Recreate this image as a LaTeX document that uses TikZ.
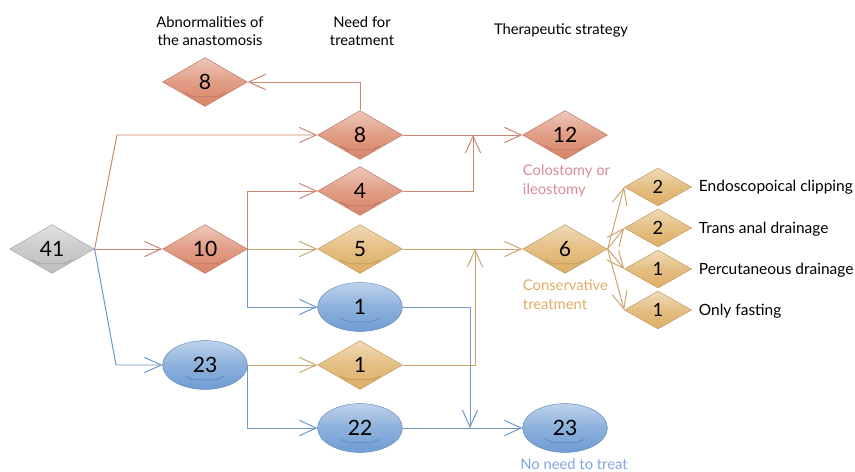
\documentclass[tikz,border=0pt]{standalone}
\usepackage{fontspec}
\setmainfont{Lato}
\usepackage{tikz}
\usetikzlibrary{arrows.meta,shapes.geometric,positioning}
\definecolor{redc}{HTML}{D98467}
\definecolor{redl}{HTML}{C98672}
\definecolor{tanc}{HTML}{DDAE64}
\definecolor{tanl}{HTML}{C9A66F}
\definecolor{bluec}{HTML}{6F9DD3}
\definecolor{bluel}{HTML}{6E98C6}
\definecolor{grayc}{HTML}{BDBDBD}
\definecolor{pinktxt}{HTML}{D98C93}
\definecolor{tantxt}{HTML}{DDAE64}
\definecolor{bluetxt}{HTML}{80A7D8}
\tikzset{
	>={Straight Barb[length=4.2mm,width=3.8mm]},
	glossy/.style={
		draw=#1!85!black, line width=0.3pt,
		top color=#1!45!white, bottom color=#1, middle color=#1!80!white,
		inner sep=0pt, font=\fontsize{15}{18}\selectfont,
		path picture={
			\draw[#1!60!black, opacity=0.35, line width=0.6pt]
			([xshift=-5mm,yshift=-2.7mm]path picture bounding box.center) --
			([xshift=-3mm,yshift=-3.7mm]path picture bounding box.center) --
			([xshift=3mm,yshift=-3.7mm]path picture bounding box.center) --
			([xshift=5mm,yshift=-2.7mm]path picture bounding box.center);
		}
	},
	dia/.style={
		diamond, glossy=#1,
		minimum width=2.12cm, minimum height=1.22cm
	},
	oval/.style={
		ellipse, glossy=#1,
		minimum width=2.12cm, minimum height=1.22cm
	},
	smalldia/.style={
		diamond, glossy=tanc,
		minimum width=1.68cm, minimum height=0.95cm,
		font=\fontsize{13}{15}\selectfont,
		path picture={}
	},
	redline/.style={draw=redl, line width=0.7pt, ->},
	tanline/.style={draw=tanl, line width=0.7pt, ->},
	blueline/.style={draw=bluel, line width=0.7pt, ->},
	head/.style={font=\fontsize{10.5}{13}\selectfont, align=center},
	strat/.style={font=\fontsize{11}{13}\selectfont, anchor=west}
}
\begin{document}
\begin{tikzpicture}[x=0.025cm,y=-0.025cm]
  \useasboundingbox (0,0) rectangle (855,472);

  % column headers
  \node [head] (habn) at (210,31) {Abnormalities of\\the anastomosis};
  \node [head] (hneed) at (362,31) {Need for\\treatment};
  \node [head] (hther) at (561,30) {Therapeutic strategy};

  \node [dia=grayc] (n41) at (52,249) {41};
  \node [dia=redc] (n10) at (205,249) {10};
  \node [oval=bluec] (n23) at (205,365) {23};
  \node [dia=redc] (abn8) at (205,82) {8};

  \node [dia=redc] (need8) at (360,135) {8};
  \node [dia=redc] (need4) at (360,191) {4};
  \node [dia=tanc] (need5) at (360,249) {5};
  \node [oval=bluec] (need1e) at (360,307) {1};
  \node [dia=tanc] (need1d) at (360,365) {1};
  \node [oval=bluec] (need22) at (360,428) {22};

  \node [dia=redc] (ther12) at (565,135) {12};
  \node [dia=tanc] (ther6) at (565,249) {6};
  \node [oval=bluec] (ther23) at (565,428) {23};

  \node [smalldia] (s1) at (658,187) {2};
  \node [smalldia] (s2) at (658,228) {2};
  \node [smalldia] (s3) at (658,269) {1};
  \node [smalldia] (s4) at (658,310) {1};

  \node [strat] (l1) at (694,187) {Endoscopoical clipping};
  \node [strat] (l2) at (694,229) {Trans anal drainage};
  \node [strat] (l3) at (694,270) {Percutaneous drainage};
  \node [strat] (l4) at (694,311) {Only fasting};

  \node [head, pinktxt, align=left, anchor=north west] (colo) at (518,160) {Colostomy or\\ileostomy};
  \node [head, tantxt, align=left, anchor=north west] (cons) at (518,275) {Conservative\\treatment};
  \node [head, bluetxt] (noneed) at (574,464) {No need to treat};

  \coordinate (j1) at (473,135);
  \coordinate (j2) at (475,249);
  \coordinate (j3) at (470,428);

  \draw [redline] (n41.east) -- (117,135) -- (need8.west);
  \draw [redline] (n41.east) -- (n10.west);
  \draw [blueline] (n41.east) -- (116,365) -- (n23.west);

  \draw [redline] (n10.east) |- (need4.west);
  \draw [tanline] (n10.east) -- (need5.west);
  \draw [blueline] (n10.east) |- (need1e.west);
  \draw [tanline] (n23.east) -- (need1d.west);
  \draw [blueline] (n23.east) |- (need22.west);

  \draw [redline] (need8.north) |- (abn8.east);
  \draw [redline] (need8.east) -- (ther12.west);
  \draw [redline] (need4.east) -| (j1);
  \draw [tanline] (need5.east) -- (ther6.west);
  \draw [tanline] (need1d.east) -| (j2);
  \draw [blueline] (need1e.east) -| (j3);
  \draw [blueline] (need22.east) -- (ther23.west);

  \foreach \s in {s1,s2,s3,s4}
    \draw [tanline] (ther6.east) -- (\s.west);
\end{tikzpicture}
\end{document}
